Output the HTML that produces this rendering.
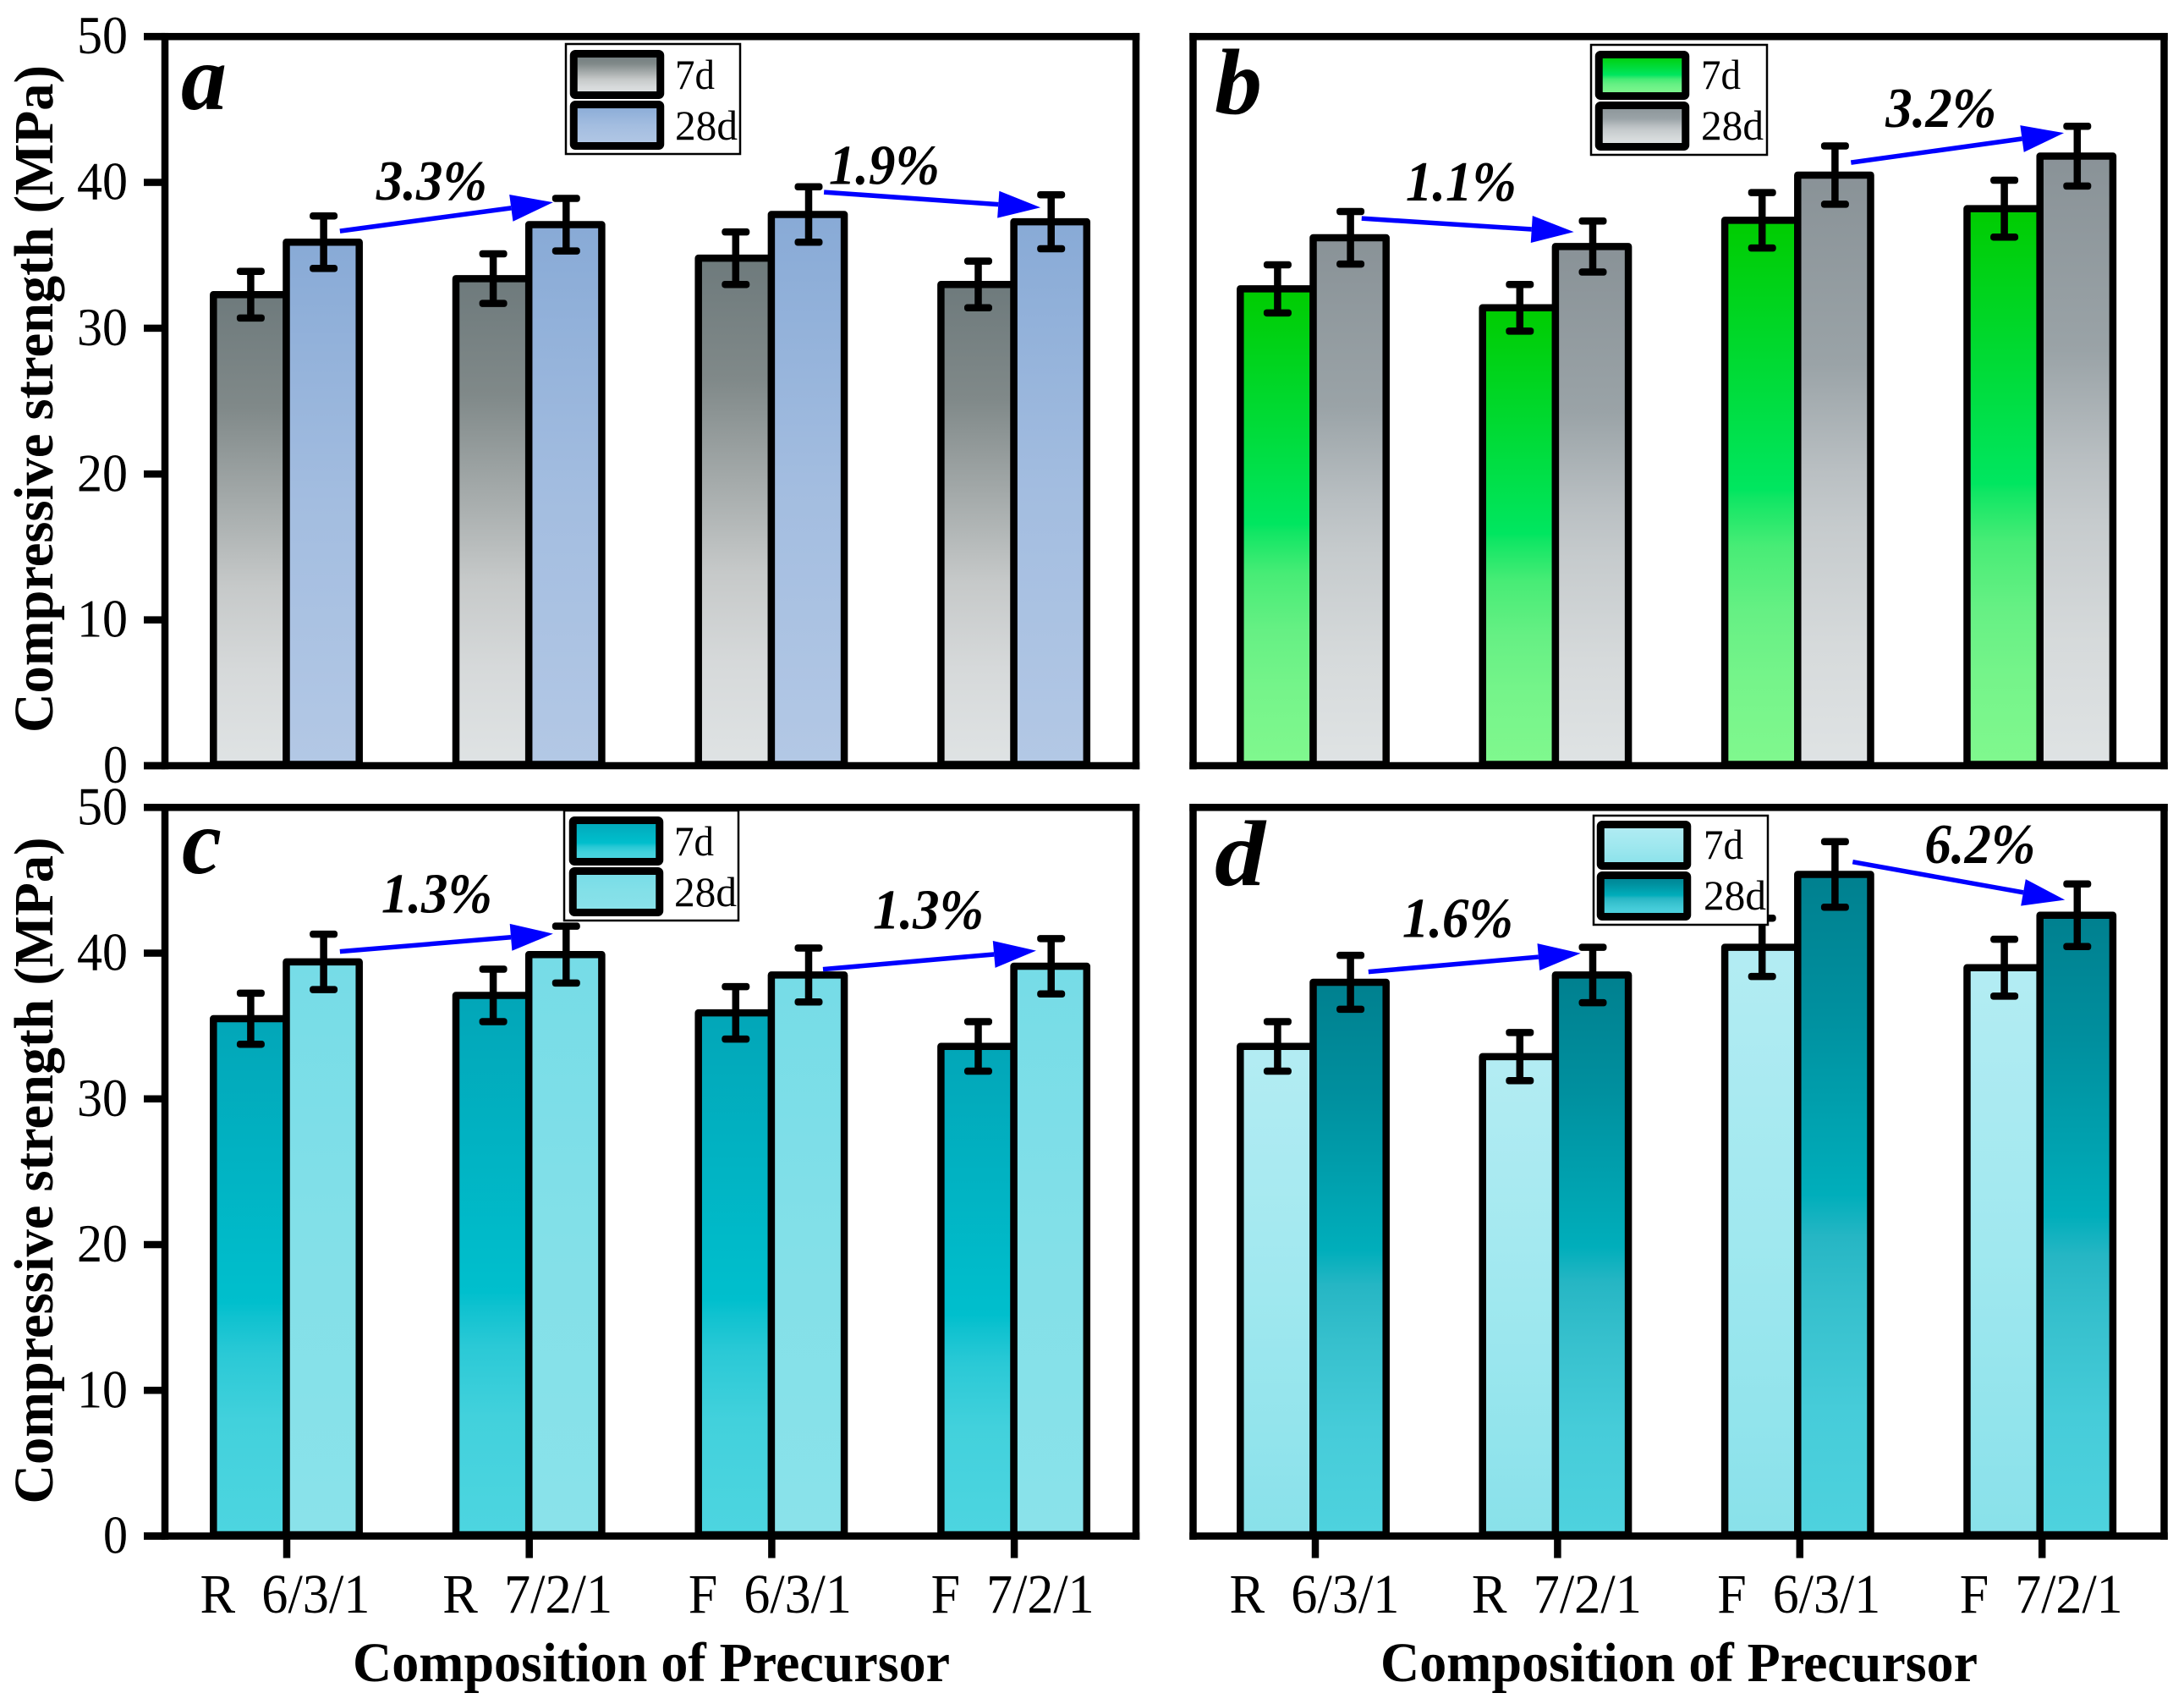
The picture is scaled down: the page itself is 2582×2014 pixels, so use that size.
<!DOCTYPE html>
<html lang="en">
<head>
<meta charset="utf-8">
<title>Compressive strength of precursor compositions</title>
<style>
html,body{margin:0;padding:0;background:#fff}
svg{display:block}
text{font-family:"Liberation Serif",serif;fill:#000;white-space:pre}
</style>
</head>
<body>
<svg id="figure" xmlns="http://www.w3.org/2000/svg" width="2582" height="2014" viewBox="0 0 2582 2014">
<defs>
<linearGradient id="g-gray" x1="0" y1="0" x2="0" y2="1"><stop offset="0" stop-color="#6e7a7c"/><stop offset=".24" stop-color="#808989"/><stop offset=".5" stop-color="#afb4b4"/><stop offset=".62" stop-color="#c6c9c9"/><stop offset=".8" stop-color="#d6d9da"/><stop offset="1" stop-color="#dfe3e4"/></linearGradient>
<linearGradient id="g-blue" x1="0" y1="0" x2="0" y2="1"><stop offset="0" stop-color="#88aad6"/><stop offset=".5" stop-color="#a3bde0"/><stop offset="1" stop-color="#b3c8e5"/></linearGradient>
<linearGradient id="g-green" x1="0" y1="0" x2="0" y2="1"><stop offset="0" stop-color="#00cc00"/><stop offset=".495" stop-color="#00e660"/><stop offset=".51" stop-color="#10e664"/><stop offset=".6" stop-color="#48ec76"/><stop offset=".72" stop-color="#66f084"/><stop offset=".84" stop-color="#75f48a"/><stop offset="1" stop-color="#80f88e"/></linearGradient>
<linearGradient id="g-slate" x1="0" y1="0" x2="0" y2="1"><stop offset="0" stop-color="#899297"/><stop offset=".32" stop-color="#9aa3a7"/><stop offset=".5" stop-color="#b9bfc2"/><stop offset=".6" stop-color="#c6cbcd"/><stop offset=".8" stop-color="#d6dadb"/><stop offset="1" stop-color="#dfe3e4"/></linearGradient>
<linearGradient id="g-teal" x1="0" y1="0" x2="0" y2="1"><stop offset="0" stop-color="#02a6b8"/><stop offset=".55" stop-color="#00bfcd"/><stop offset=".58" stop-color="#10c2d0"/><stop offset=".65" stop-color="#2ac9d6"/><stop offset=".78" stop-color="#42d1dc"/><stop offset="1" stop-color="#4dd5e0"/></linearGradient>
<linearGradient id="g-aqua" x1="0" y1="0" x2="0" y2="1"><stop offset="0" stop-color="#76dce7"/><stop offset=".5" stop-color="#83e0e8"/><stop offset="1" stop-color="#8ae2ea"/></linearGradient>
<linearGradient id="g-pale" x1="0" y1="0" x2="0" y2="1"><stop offset="0" stop-color="#b3ecf3"/><stop offset=".5" stop-color="#a0e8ef"/><stop offset="1" stop-color="#89e1ea"/></linearGradient>
<linearGradient id="g-deep" x1="0" y1="0" x2="0" y2="1"><stop offset="0" stop-color="#00808f"/><stop offset=".2" stop-color="#008f9e"/><stop offset=".485" stop-color="#00aebb"/><stop offset=".55" stop-color="#26b6c4"/><stop offset=".65" stop-color="#36c0cd"/><stop offset=".81" stop-color="#46ccd9"/><stop offset="1" stop-color="#4ed2de"/></linearGradient>
</defs>
</svg>
<script>
const categories = ['R  6/3/1', 'R  7/2/1', 'F  6/3/1', 'F  7/2/1'];
const yTickValues = [0, 10, 20, 30, 40, 50];
const legendLabels = ['7d', '28d'];

const a7d = [32.3, 33.4, 34.8, 33.0];
const a28d = [35.9, 37.1, 37.8, 37.3];
const a7dErr = [1.6, 1.7, 1.8, 1.6];
const a28dErr = [1.8, 1.8, 1.9, 1.85];

const b7d = [32.7, 31.4, 37.4, 38.2];
const b28d = [36.2, 35.6, 40.5, 41.8];
const b7dErr = [1.65, 1.6, 1.9, 1.95];
const b28dErr = [1.8, 1.75, 2.0, 2.05];

const c7d = [35.5, 37.1, 35.9, 33.6];
const c28d = [39.4, 39.9, 38.5, 39.1];
const c7dErr = [1.75, 1.8, 1.8, 1.7];
const c28dErr = [1.9, 1.95, 1.85, 1.9];

const d7d = [33.6, 32.9, 40.4, 39.0];
const d28d = [38.0, 38.5, 45.4, 42.6];
const d7dErr = [1.7, 1.65, 2.0, 1.95];
const d28dErr = [1.85, 1.9, 2.25, 2.15];

/* percentage annotations: text, then arrow end points and text origin in axis units (category, MPa) */
const aNotes = ['3.3%', '1.9%'];
const aArrowFromCat = [0.221, 2.217];
const aArrowFromVal = [36.66, 39.33];
const aArrowToCat = [1.100, 3.110];
const aArrowToVal = [38.63, 38.28];
const aNoteCat = [0.371, 2.237];
const aNoteVal = [38.8, 39.9];

const bNotes = ['1.1%', '3.2%'];
const bArrowFromCat = [0.200, 2.220];
const bArrowFromVal = [37.53, 41.36];
const bArrowToCat = [1.076, 3.099];
const bArrowToVal = [36.60, 43.39];
const bNoteCat = [0.382, 2.363];
const bNoteVal = [38.75, 43.79];

const cNotes = ['1.3%', '1.3%'];
const cArrowFromCat = [0.221, 2.213];
const cArrowFromVal = [40.11, 38.89];
const cArrowToCat = [1.100, 3.092];
const cArrowToVal = [41.33, 40.17];
const cNoteCat = [0.392, 2.419];
const cNoteVal = [42.78, 41.68];

const dNotes = ['1.6%', '6.2%'];
const dArrowFromCat = [0.228, 2.227];
const dArrowFromVal = [38.72, 46.26];
const dArrowToCat = [1.104, 3.103];
const dArrowToVal = [39.99, 43.65];
const dNoteCat = [0.368, 2.524];
const dNoteVal = [41.1, 46.2];

const NS = 'http://www.w3.org/2000/svg';
const root = document.getElementById('figure');
const LW = 8.5;
const BAR_W = 86.2;
const CAP_W = 33;

function make(tag, attrs, parent) {
  const node = document.createElementNS(NS, tag);
  for (const k in attrs) node.setAttribute(k, attrs[k]);
  (parent || root).appendChild(node);
  return node;
}

function makeText(str, x, y, size, width, weight, style, parent) {
  const node = make('text', {
    x: x, y: y, 'font-size': size, 'font-weight': weight, 'font-style': style,
    textLength: width, lengthAdjust: 'spacingAndGlyphs'
  }, parent);
  node.textContent = str;
  return node;
}

function drawPanel(p) {
  const g = make('g', {});
  
  

  const yOf = v => p.y0 - v * (p.y0 - p.y50) / 50;
  const xOf = c => p.x0 + c * p.step;

  /* bars */
  categories.forEach((cat, i) => {
    const cx = xOf(i);
    const base = yOf(0) - 1.5;
    const top7 = yOf(p.v7[i]);
    const top28 = yOf(p.v28[i]);

    const bar7 = make('rect', { x: cx - BAR_W, y: top7, width: BAR_W, height: base - top7, fill: 'url(#' + p.grad7 + ')', stroke: '#000', 'stroke-width': LW, 'stroke-linejoin': 'round' }, g);
    
    

    const bar28 = make('rect', { x: cx, y: top28, width: BAR_W, height: base - top28, fill: 'url(#' + p.grad28 + ')', stroke: '#000', 'stroke-width': LW, 'stroke-linejoin': 'round' }, g);
    
    

    [[cx - BAR_W / 2 + 1, p.v7[i], p.e7[i], '7d'], [cx + BAR_W / 2 + 1, p.v28[i], p.e28[i], '28d']].forEach(spec => {
      const ex = spec[0], hi = yOf(spec[1] + spec[2]), lo = yOf(spec[1] - spec[2]);
      const err = make('g', {}, g);
      
      
      make('rect', { x: ex - LW / 2, y: hi, width: LW, height: lo - hi, fill: '#000' }, err);
      make('rect', { x: ex - CAP_W / 2, y: hi - LW / 2, width: CAP_W, height: LW, rx: 3.5, fill: '#000' }, err);
      make('rect', { x: ex - CAP_W / 2, y: lo - LW / 2, width: CAP_W, height: LW, rx: 3.5, fill: '#000' }, err);
    });
  });

  /* frame */
  const frame = make('g', {}, g);
  
  
  const outer = p.hasYTicks ? p.left - 25 : p.left - LW / 2;
  make('rect', { x: outer, y: p.y50 - LW / 2, width: p.right + LW / 2 - outer, height: LW, fill: '#000' }, frame);
  make('rect', { x: outer, y: p.y0 - LW / 2, width: p.right + LW / 2 - outer, height: LW, fill: '#000' }, frame);
  make('rect', { x: p.left - LW / 2, y: p.y50 - LW / 2, width: LW, height: p.y0 - p.y50 + LW, fill: '#000' }, frame);
  make('rect', { x: p.right - LW / 2, y: p.y50 - LW / 2, width: LW, height: p.y0 - p.y50 + LW, fill: '#000' }, frame);

  /* y axis */
  if (p.hasYTicks) {
    yTickValues.forEach(v => {
      const tick = make('rect', { x: outer, y: yOf(v) - LW / 2, width: 25, height: LW, fill: '#000' }, g);
      
      
      const s = String(v);
      const w = s.length === 2 ? 60 : 29;
      const lab = makeText(s, 151 - w, yOf(v) + 20, 64, w, 'normal', 'normal', g);
      
      
    });
    const title = make('text', {
      x: 0, y: 0, 'font-size': 66, 'font-weight': 'bold',
      textLength: p.titleLen, lengthAdjust: 'spacingAndGlyphs', 'text-anchor': 'start',
      transform: 'translate(62,' + (p.y0 - p.titleBottomOffset) + ') rotate(-90)'
    }, g);
    title.textContent = 'Compressive strength (MPa)';
    
    
  }

  /* x axis */
  if (p.hasXTicks) {
    categories.forEach((cat, i) => {
      const tick = make('rect', { x: xOf(i) + p.tickShift - LW / 2, y: p.y0, width: LW, height: 26, fill: '#000' }, g);
      
      
      const w = cat[0] === 'R' ? 201 : 193;
      const off = cat[0] === 'R' ? -102 : -98;
      const lab = makeText(cat, xOf(i) + off + p.labelShift, 1906, 66, w, 'normal', 'normal', g);
      
      
    });
    const xt = makeText('Composition of Precursor', p.titleX, 1987, 66, 706, 'bold', 'normal', g);
    
    
  }

  /* panel letter */
  const letter = makeText(p.id, p.letterX, p.letterY, 110, p.letterW, 'bold', 'italic', g);
  
  

  /* annotations */
  p.notes.forEach((t, i) => {
    const x1 = xOf(p.fromCat[i]), y1 = yOf(p.fromVal[i]);
    const x2 = xOf(p.toCat[i]), y2 = yOf(p.toVal[i]);
    const len = Math.hypot(x2 - x1, y2 - y1);
    const ux = (x2 - x1) / len, uy = (y2 - y1) / len;
    const bx = x2 - ux * 50, by = y2 - uy * 50;
    const arrow = make('g', {}, g);
    
    
    make('line', { x1: x1, y1: y1, x2: bx, y2: by, stroke: '#0000ff', 'stroke-width': 5.5 }, arrow);
    make('polygon', { points: x2 + ',' + y2 + ' ' + (bx - uy * 16) + ',' + (by + ux * 16) + ' ' + (bx + uy * 16) + ',' + (by - ux * 16), fill: '#0000ff' }, arrow);

    const note = makeText(t, xOf(p.noteCat[i]), yOf(p.noteVal[i]), 67, 131, 'bold', 'italic', g);
    
    
  });

  /* legend */
  const lg = p.legend;
  const legend = make('g', {}, g);
  
  
  make('rect', { x: lg.x, y: lg.y, width: lg.w, height: lg.h, fill: '#fff', stroke: '#000', 'stroke-width': 2.5 }, legend);
  legendLabels.forEach((lab, i) => {
    const entry = make('g', {}, legend);
    
    
    const sy = lg.swatchY + i * 60;
    make('rect', { x: lg.swatchX + 4.25, y: sy + 4.5, width: lg.swatchW - 8.5, height: 49, rx: 2, fill: 'url(#' + (i ? p.grad28 : p.grad7) + ')', stroke: '#000', 'stroke-width': LW + 0.5 }, entry);
    makeText(lab, lg.textX, lg.textY + i * 60, 50, i ? 74 : 47, 'normal', 'normal', entry);
  });
}

drawPanel({
  id: 'a', x0: 338.5, step: 286.7, y0: 905, y50: 43.2, left: 195, right: 1343,
  v7: a7d, v28: a28d, e7: a7dErr, e28: a28dErr, grad7: 'g-gray', grad28: 'g-blue',
  hasYTicks: true, hasXTicks: false, titleBottomOffset: 39, titleLen: 789,
  letterX: 214, letterY: 129, letterW: 54,
  notes: aNotes, fromCat: aArrowFromCat, fromVal: aArrowFromVal, toCat: aArrowToCat, toVal: aArrowToVal, noteCat: aNoteCat, noteVal: aNoteVal,
  legend: { x: 669, y: 52, w: 206, h: 130, swatchX: 674, swatchY: 59, swatchW: 111, textX: 798, textY: 105 }
});
drawPanel({
  id: 'b', x0: 1552.5, step: 286.4, y0: 905, y50: 43.2, left: 1410.5, right: 2558.5,
  v7: b7d, v28: b28d, e7: b7dErr, e28: b28dErr, grad7: 'g-green', grad28: 'g-slate',
  hasYTicks: false, hasXTicks: false,
  letterX: 1436, letterY: 134, letterW: 56,
  notes: bNotes, fromCat: bArrowFromCat, fromVal: bArrowFromVal, toCat: bArrowToCat, toVal: bArrowToVal, noteCat: bNoteCat, noteVal: bNoteVal,
  legend: { x: 1881, y: 53, w: 208, h: 130, swatchX: 1886, swatchY: 60, swatchW: 111, textX: 2011, textY: 105 }
});
drawPanel({
  id: 'c', x0: 338.5, step: 286.7, y0: 1815.5, y50: 954.3, left: 195, right: 1343,
  v7: c7d, v28: c28d, e7: c7dErr, e28: c28dErr, grad7: 'g-teal', grad28: 'g-aqua',
  hasYTicks: true, hasXTicks: true, titleBottomOffset: 38, titleLen: 788, labelShift: 0, tickShift: 0.5, titleX: 417,
  letterX: 215, letterY: 1032, letterW: 47,
  notes: cNotes, fromCat: cArrowFromCat, fromVal: cArrowFromVal, toCat: cArrowToCat, toVal: cArrowToVal, noteCat: cNoteCat, noteVal: cNoteVal,
  legend: { x: 667, y: 958, w: 206, h: 130, swatchX: 673, swatchY: 965, swatchW: 111, textX: 797, textY: 1011 }
});
drawPanel({
  id: 'd', x0: 1552.5, step: 286.4, y0: 1815.5, y50: 954.3, left: 1410.5, right: 2558.5,
  v7: d7d, v28: d28d, e7: d7dErr, e28: d28dErr, grad7: 'g-pale', grad28: 'g-deep',
  hasYTicks: false, hasXTicks: true, labelShift: 3, tickShift: 2.5, titleX: 1632,
  letterX: 1436, letterY: 1046, letterW: 60,
  notes: dNotes, fromCat: dArrowFromCat, fromVal: dArrowFromVal, toCat: dArrowToCat, toVal: dArrowToVal, noteCat: dNoteCat, noteVal: dNoteVal,
  legend: { x: 1884, y: 964, w: 206, h: 129, swatchX: 1888, swatchY: 970, swatchW: 111, textX: 2014, textY: 1015 }
});
</script>
</body>
</html>
